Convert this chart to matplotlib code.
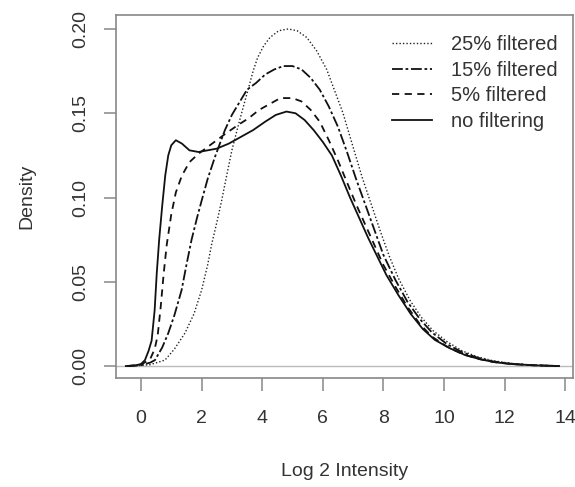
import numpy as np
import matplotlib
matplotlib.use("Agg")
import matplotlib.pyplot as plt

plt.rcParams['font.family'] = ['Liberation Sans', 'DejaVu Sans']

# no filtering (solid)
x_none = [-0.5, -0.2, 0.0, 0.13, 0.25, 0.35, 0.45, 0.52, 0.6, 0.7, 0.8, 0.9, 1.0, 1.15,
          1.35, 1.6, 1.9, 2.2, 2.5, 2.9, 3.3, 3.7, 4.1, 4.45, 4.8, 5.1, 5.4, 5.7, 6.0,
          6.3, 6.6, 6.9, 7.2, 7.5, 7.8, 8.1, 8.5, 8.9, 9.3, 9.7, 10.2, 10.7, 11.2, 11.7,
          12.3, 13.0, 13.8]
y_none = [0.0, 0.0003, 0.0012, 0.0035, 0.009, 0.015, 0.033, 0.055, 0.075, 0.095, 0.113,
          0.125, 0.131, 0.134, 0.132, 0.128, 0.127, 0.128, 0.129, 0.132, 0.136, 0.140,
          0.145, 0.149, 0.151, 0.150, 0.146, 0.140, 0.133, 0.125, 0.113, 0.100, 0.088,
          0.076, 0.065, 0.054, 0.042, 0.031, 0.022, 0.0155, 0.0105, 0.0065, 0.004,
          0.0022, 0.0011, 0.0004, 0.0]

# 5% filtered (dashed)
x_5 = [-0.45, 0.0, 0.3, 0.45, 0.55, 0.65, 0.75, 0.85, 1.0, 1.15, 1.35, 1.6, 1.9, 2.2,
       2.5, 2.8, 3.2, 3.55, 3.9, 4.2, 4.6, 5.0, 5.3, 5.6, 5.9, 6.2, 6.5, 6.8, 7.1, 7.4,
       7.7, 8.0, 8.4, 8.8, 9.2, 9.6, 10.1, 10.6, 11.1, 11.6, 12.2, 12.9, 13.8]
y_5 = [0.0, 0.0008, 0.004, 0.010, 0.018, 0.035, 0.055, 0.072, 0.090, 0.103, 0.113,
       0.121, 0.126, 0.130, 0.134, 0.138, 0.143, 0.147, 0.152, 0.155, 0.159, 0.159,
       0.157, 0.152, 0.145, 0.134, 0.122, 0.109, 0.096, 0.084, 0.072, 0.060, 0.047,
       0.035, 0.025, 0.0175, 0.0115, 0.0072, 0.0044, 0.0025, 0.0012, 0.0005, 0.0]

# 15% filtered (dash-dot)
x_15 = [-0.45, 0.0, 0.3, 0.46, 0.7, 0.9, 1.1, 1.34, 1.5, 1.67, 1.85, 2.0, 2.2, 2.44,
        2.77, 3.0, 3.2, 3.5, 3.8, 4.1, 4.4, 4.7, 5.0, 5.3, 5.6, 5.9, 6.2, 6.5, 6.8, 7.1,
        7.4, 7.7, 8.0, 8.4, 8.8, 9.2, 9.6, 10.1, 10.6, 11.1, 11.6, 12.2, 12.9, 13.8]
y_15 = [0.0, 0.0005, 0.002, 0.0035, 0.011, 0.0195, 0.030, 0.045, 0.060, 0.075, 0.088,
        0.098, 0.111, 0.124, 0.140, 0.149, 0.155, 0.164, 0.168, 0.173, 0.176, 0.178,
        0.178, 0.176, 0.171, 0.164, 0.154, 0.142, 0.127, 0.111, 0.096, 0.081, 0.066,
        0.051, 0.038, 0.028, 0.020, 0.013, 0.0082, 0.005, 0.0028, 0.0014, 0.0005, 0.0]

# 25% filtered (dotted)
x_25 = [-0.3, 0.3, 0.79, 1.1, 1.45, 1.75, 2.0, 2.2, 2.33, 2.5, 2.66, 2.85, 3.0, 3.2,
        3.35, 3.55, 3.7, 3.85, 4.05, 4.26, 4.55, 4.86, 5.15, 5.47, 5.8, 6.13, 6.4, 6.67,
        7.0, 7.3, 7.6, 7.9, 8.2, 8.5, 8.88, 9.25, 9.64, 10.1, 10.6, 11.1, 11.6, 12.2,
        12.9, 13.8]
y_25 = [0.0, 0.0008, 0.0035, 0.010, 0.0195, 0.031, 0.045, 0.060, 0.072, 0.085, 0.098,
        0.115, 0.128, 0.142, 0.152, 0.165, 0.175, 0.183, 0.190, 0.195, 0.199, 0.200,
        0.199, 0.195, 0.187, 0.176, 0.163, 0.150, 0.130, 0.112, 0.096, 0.080, 0.065,
        0.052, 0.039, 0.029, 0.021, 0.0145, 0.009, 0.0055, 0.0032, 0.0016, 0.0006, 0.0]

fig = plt.figure(figsize=(5.75, 4.87), dpi=100)
ax = fig.add_axes([116/575, 1 - 378/487, (573-116)/575, (378-15)/487])

ax.axhline(0, color='#bbbbbb', lw=1.0, zorder=1)
ax.plot(x_none, y_none, color='#111111', ls='-', lw=1.3, label='no filtering')
ax.plot(x_5, y_5, color='#111111', ls=(0, (4, 3)), lw=1.3, label='5% filtered')
ax.plot(x_15, y_15, color='#111111', ls=(0, (6, 1.5, 1.5, 1.5)), lw=1.3, label='15% filtered')
ax.plot(x_25, y_25, color='#222222', ls=(0, (1, 1.5)), lw=1.0, label='25% filtered')

ax.set_xlim(-0.825, 14.26)
ax.set_ylim(-0.0071, 0.2083)
ax.set_xticks(range(0, 15, 2))
ax.set_yticks([0.0, 0.05, 0.10, 0.15, 0.20])
ax.set_yticklabels(['0.00', '0.05', '0.10', '0.15', '0.20'], rotation=90, va='center')

for s in ax.spines.values():
    s.set_color('#888888')
    s.set_linewidth(1.2)
ax.tick_params(direction='out', length=9, width=1.1, color='#888888',
               labelsize=14, labelcolor='#333333')
ax.tick_params(axis='x', pad=14)
ax.tick_params(axis='y', pad=10)

ax.set_xlabel('Log 2 Intensity', fontsize=14, color='#333333', va='center')
ax.set_ylabel('Density', fontsize=14, color='#333333', va='center')
ax.xaxis.set_label_coords(0.5, (378 - 472) / 363)
ax.yaxis.set_label_coords((27 - 116) / 457, 0.5)

h, l = ax.get_legend_handles_labels()
ax.legend(h[::-1], l[::-1], loc='upper right', frameon=False, fontsize=14.5,
          handlelength=2.0, handletextpad=0.9, labelspacing=0.33,
          bbox_to_anchor=(1.005, 0.995), labelcolor='#333333')

fig.savefig('out.png', dpi=100)
